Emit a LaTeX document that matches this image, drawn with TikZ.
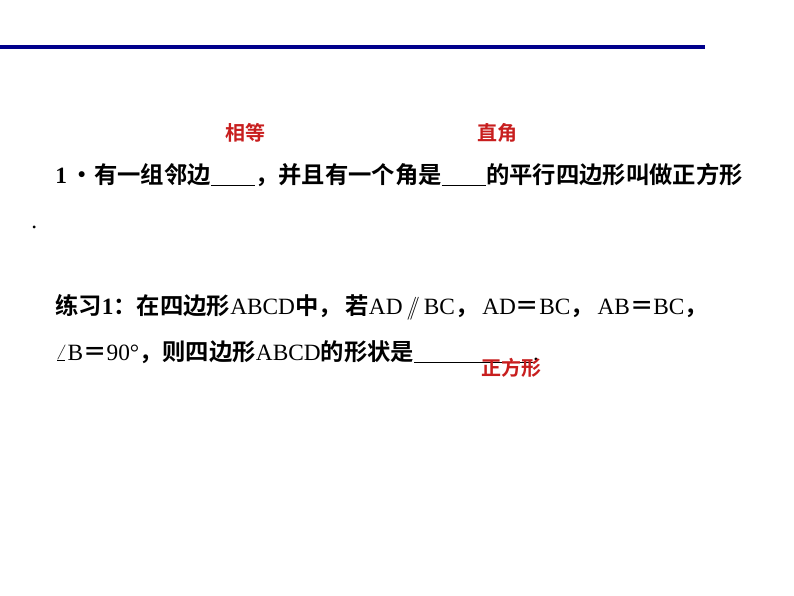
\documentclass[tikz,border=0pt]{standalone}
\usepackage{fontspec}
\setmainfont{Liberation Serif}
\newfontfamily\cjk{Noto Sans CJK SC Bold}
\newfontfamily\cjkb{Noto Sans CJK SC Bold}
\definecolor{navy}{RGB}{0,0,140}
\definecolor{ans}{RGB}{200,30,30}
\begin{document}
\begin{tikzpicture}[x=0.75pt,y=-0.75pt,
  txt/.style={anchor=west,inner sep=0pt,font=\fontsize{17.5}{20}\selectfont},
  red/.style={anchor=center,inner sep=0pt,text=ans,font=\cjkb\fontsize{15}{17}\selectfont}]
\useasboundingbox (0,0) rectangle (794,596);
\fill[white] (0,0) rectangle (794,596);
\draw[navy,line width=2.4pt] (0,47) -- (705,47);
\node[red] (a1) at (245,133) {相等};
\node[red] (a2) at (497,133) {直角};
\node[txt] (l1) at (55,175) {\textbf{1}\,{\cjk ·有一组邻边\underline{\hspace{1.9em}}，并且有一个角是\underline{\hspace{1.9em}}的平行四边形叫做正方形}};
\node[txt] (dot) at (31,227) {.};
\node[txt] (l2) at (55,307) {{\cjk 练习}\textbf{1}{\cjk ：在四边形}ABCD{\cjk 中，\,若}AD\,$/\!\!/$\,BC{\cjk ，\,}AD{\cjk ＝}BC{\cjk ，\,}AB{\cjk ＝}BC{\cjk ，}};
\node[txt] (l3) at (55,352) {$\angle$B{\cjk ＝}90°{\cjk ，则四边形}ABCD{\cjk 的形状是}\underline{\hspace{5.1em}}.};
\node[red] (a3) at (511,368) {正方形};
\end{tikzpicture}
\end{document}
